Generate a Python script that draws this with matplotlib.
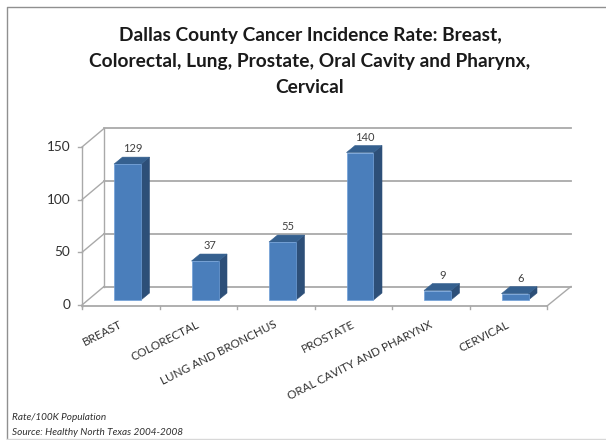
import matplotlib
matplotlib.use("Agg")
import matplotlib.pyplot as plt
from matplotlib.patches import Polygon
from matplotlib.lines import Line2D

categories = ["BREAST", "COLORECTAL", "LUNG AND BRONCHUS", "PROSTATE",
              "ORAL CAVITY AND PHARYNX", "CERVICAL"]
values = [129, 37, 55, 140, 9, 6]
yticks = [0, 50, 100, 150]
title = ("Dallas County Cancer Incidence Rate: Breast,\n"
         "Colorectal, Lung, Prostate, Oral Cavity and Pharynx,\nCervical")
notes = ["Rate/100K Population", "Source: Healthy North Texas 2004-2008"]

W, H = 606, 440
plt.rcParams['font.family'] = ['Lato', 'DejaVu Sans']
fig = plt.figure(figsize=(W / 100, H / 100), dpi=100)

L, R, B, T = 82, 547, 305, 147
ax = fig.add_axes([L / W, 1 - B / H, (R - L) / W, (B - T) / H])
ax.set_xlim(0, 6)
ax.set_ylim(0, 150)
ax.axis("off")
px = 6 / (R - L)
py = 150 / (B - T)

GRID = "#a9a9a9"
wall_dx, wall_dy = 22 * px, 18.5 * py
for t in yticks:
    ax.plot([0, wall_dx], [t, t + wall_dy], color=GRID, lw=1.0, clip_on=False, zorder=1)
    ax.plot([wall_dx, 6 + wall_dx + 2 * px], [t + wall_dy] * 2, color=GRID, lw=1.3,
            clip_on=False, zorder=1)
    ax.plot([-4 * px, 0], [t, t], color=GRID, lw=1.0, clip_on=False, zorder=1)
ax.plot([wall_dx, wall_dx], [wall_dy, 150 + wall_dy], color=GRID, lw=1.0, clip_on=False, zorder=1)
ax.plot([0, 0], [-2 * py, 150], color=GRID, lw=1.0, clip_on=False, zorder=1)
ax.plot([0, 6], [-1 * py, -1 * py], color=GRID, lw=1.3, clip_on=False, zorder=2)
ax.plot([6, 6 + wall_dx + 2 * px], [-1 * py, wall_dy], color=GRID, lw=1.0, clip_on=False, zorder=1)
for i in range(0, 7):
    ax.plot([i, i], [-4 * py, -1 * py], color=GRID, lw=1.0, clip_on=False, zorder=2)

FRONT, TOP, SIDE = "#4a7ebb", "#35608f", "#2d4f78"
bw = 27 * px
dx, dy = 8.5 * px, 7 * py
base = 5 * py
for i, v in enumerate(values):
    x0 = i + 0.5 - bw / 2 + 6.75 * px
    x1 = x0 + bw
    y0, y1 = base, base + v
    ax.add_patch(Polygon([(x0, y0), (x1, y0), (x1, y1), (x0, y1)], fc=FRONT, ec="#6f9fd8",
                         lw=0.5, zorder=4, clip_on=False))
    ax.add_patch(Polygon([(x1, y0), (x1 + dx, y0 + dy), (x1 + dx, y1 + dy), (x1, y1)],
                         fc=SIDE, ec=SIDE, lw=0.4, zorder=3, clip_on=False))
    ax.add_patch(Polygon([(x0, y1), (x1, y1), (x1 + dx, y1 + dy), (x0 + dx, y1 + dy)],
                         fc=TOP, ec=TOP, lw=0.4, zorder=3, clip_on=False))
    ax.text(i + 0.5 + 12 * px, y1 + dy + 3 * py, str(v), ha="center", va="bottom",
            fontsize=8, color="#404040", clip_on=False)
    ax.annotate(categories[i], xy=(i + 0.5 - 2 * px, -14 * py), xytext=(0, 0),
                textcoords="offset points", rotation=27, rotation_mode="anchor",
                ha="right", va="top", fontsize=8.4, color="#303030", annotation_clip=False)

for t in yticks:
    ax.annotate(str(t), xy=(0, t), xytext=(-8.5, 0), textcoords="offset points",
                ha="right", va="center", fontsize=9.8, color="#303030", annotation_clip=False)

fig.text(310 / W, 1 - 61.5 / H, title, ha="center", va="center", fontsize=13.8,
         fontweight="bold", color="#1a1a1a", linespacing=1.65)
fig.text(12 / W, 1 - 417 / H, notes[0], ha="left", va="center", fontsize=7.2,
         style="italic", color="#303030")
fig.text(12 / W, 1 - 432 / H, notes[1], ha="left", va="center", fontsize=7.2,
         style="italic", color="#303030")

fig.add_artist(Line2D([7 / W, 7 / W, 1], [0, 1 - 7 / H, 1 - 7 / H], color="#909090", lw=1.0))
fig.add_artist(Line2D([7 / W, 1], [1 - 438.5 / H] * 2, color="#d8d8d8", lw=1.0))
fig.savefig("out.png", dpi=100)
